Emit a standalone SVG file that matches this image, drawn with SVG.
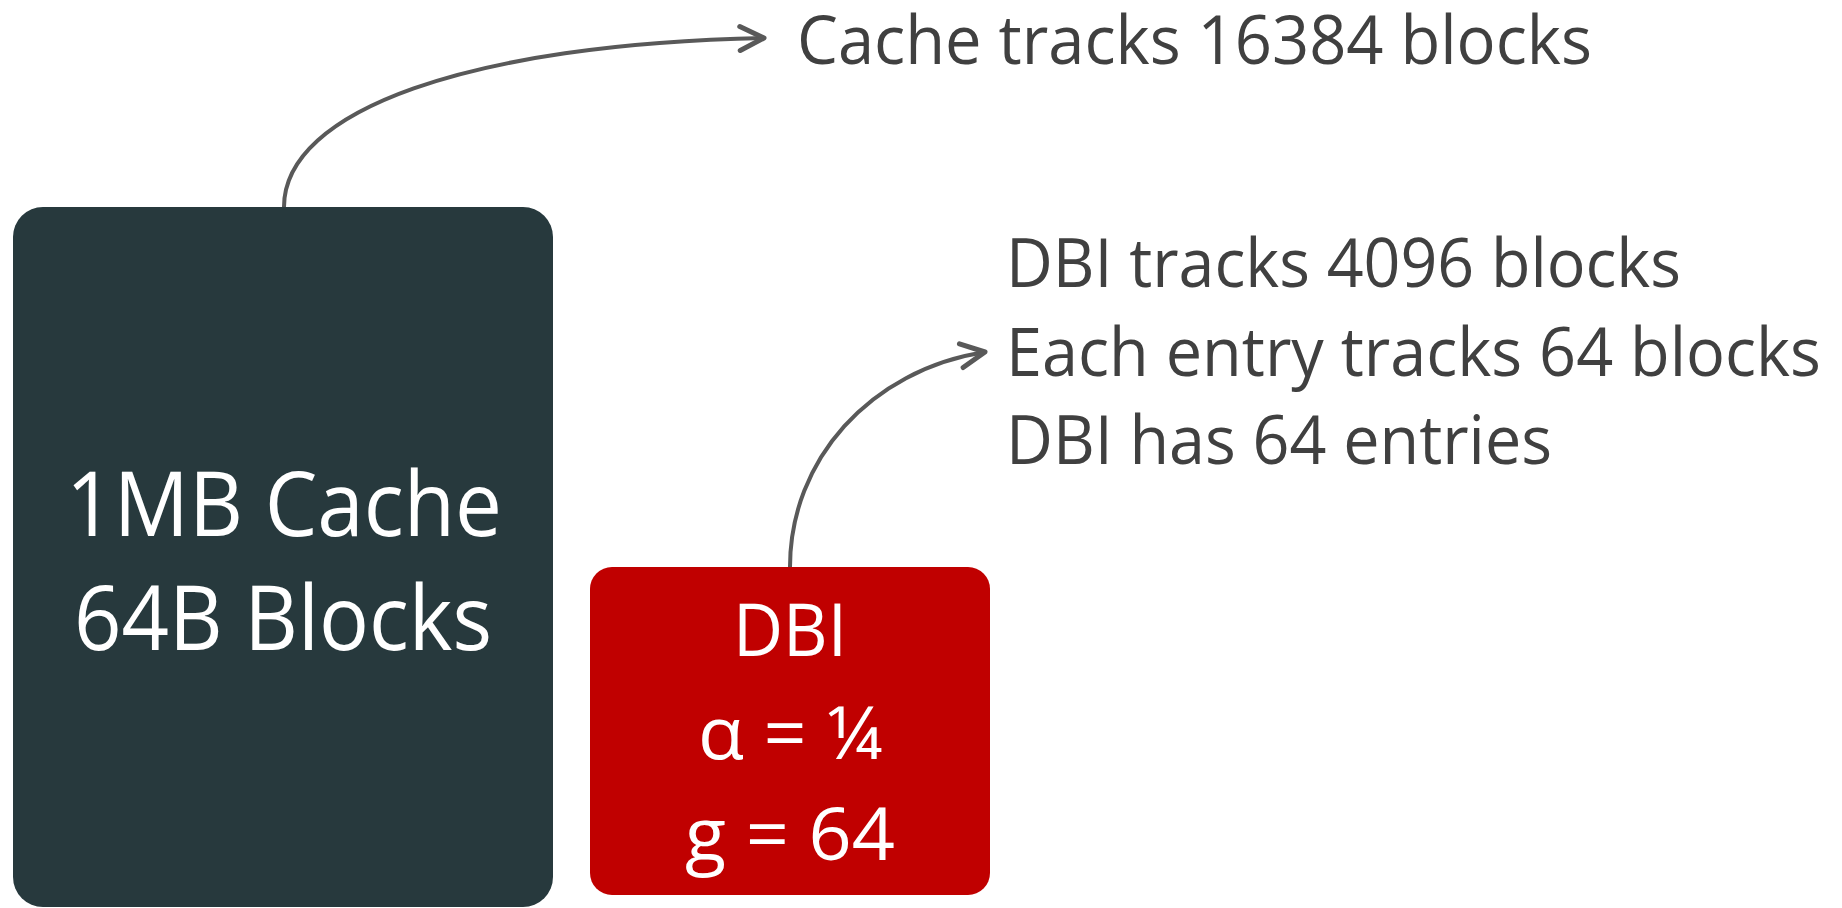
<svg xmlns="http://www.w3.org/2000/svg" width="1842" height="908" viewBox="0 0 1842 908">
  <style>
    .label { font-family: "Open Sans", "Liberation Sans", sans-serif; fill: #404040; font-size: 67px; }
    .boxtext { font-family: "Open Sans", "Liberation Sans", sans-serif; fill: #ffffff; }
    .conn { fill: none; stroke: #595959; stroke-width: 4; }
  </style>
  <defs>
    <marker id="chevron" markerUnits="userSpaceOnUse" markerWidth="40" markerHeight="40" refX="30" refY="20" orient="auto" overflow="visible">
      <path d="M6,8 L30,20 L6,32" fill="none" stroke="#595959" stroke-width="5" stroke-linecap="round" stroke-linejoin="round"/>
    </marker>
  </defs>
  <rect width="1842" height="908" fill="#ffffff"/>

  <!-- connectors -->
  <g id="connectors">
    <path class="conn" d="M284,207 C284,110 470,44 764,38" marker-end="url(#chevron)"/>
    <path class="conn" d="M790,567 C790,460 870,370 985,352" marker-end="url(#chevron)"/>
  </g>

  <!-- cache block -->
  <g id="cache">
    <rect x="13" y="207" width="540" height="700" rx="30" ry="30" fill="#27393D"/>
    <text class="boxtext" font-size="89" x="66" y="536" textLength="436" lengthAdjust="spacingAndGlyphs">1MB Cache</text>
    <text class="boxtext" font-size="89" x="74" y="650" textLength="418" lengthAdjust="spacingAndGlyphs">64B Blocks</text>
  </g>

  <!-- DBI block -->
  <g id="dbi">
    <rect x="590" y="567" width="400" height="328" rx="22" ry="22" fill="#C00000"/>
    <text class="boxtext" font-size="73" x="733" y="656" textLength="114" lengthAdjust="spacingAndGlyphs">DBI</text>
    <text class="boxtext" font-size="73" x="698" y="759" textLength="184" lengthAdjust="spacingAndGlyphs">α = ¼</text>
    <text class="boxtext" font-size="73" x="685" y="860" textLength="210" lengthAdjust="spacingAndGlyphs">g = 64</text>
  </g>

  <!-- annotation for the cache -->
  <g id="cache-note">
    <text class="label" x="797" y="64" textLength="795" lengthAdjust="spacingAndGlyphs">Cache tracks 16384 blocks</text>
  </g>

  <!-- annotation for the DBI -->
  <g id="dbi-note">
    <text class="label" x="1006" y="287" textLength="675" lengthAdjust="spacingAndGlyphs">DBI tracks 4096 blocks</text>
    <text class="label" x="1006" y="376" textLength="815" lengthAdjust="spacingAndGlyphs">Each entry tracks 64 blocks</text>
    <text class="label" x="1006" y="464" textLength="546" lengthAdjust="spacingAndGlyphs">DBI has 64 entries</text>
  </g>
</svg>
